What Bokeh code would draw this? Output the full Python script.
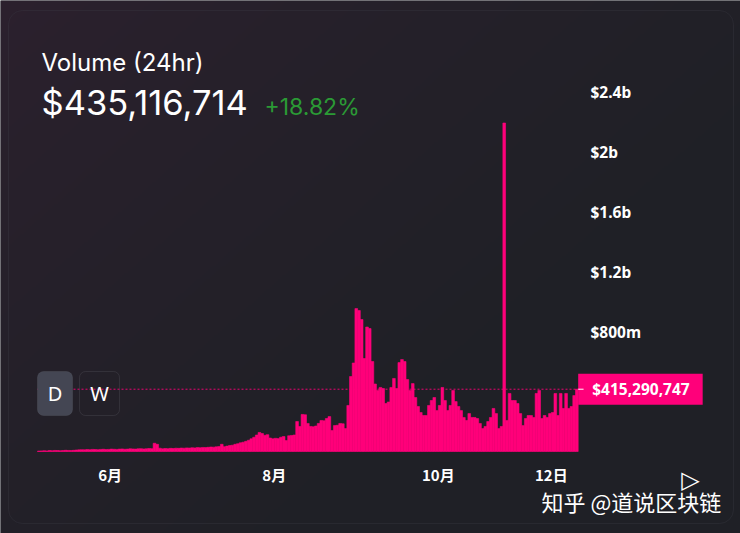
import numpy as np
import pandas as pd
from bokeh.plotting import figure
from bokeh.models import Range1d, FixedTicker, Label, BoxAnnotation, ColumnDataSource, LinearAxis, DatetimeAxis
from bokeh.embed import file_html
from bokeh.resources import INLINE

# ---------------- data ----------------
START_DATE = "2020-05-05"
volume_m = [
    3, 4, 5, 4, 6, 5, 7, 6, 5, 6, 8, 7, 6, 8,
    10, 11, 12, 11, 13, 12, 14, 13, 12, 14, 15, 13, 14, 16, 15, 14, 16, 17, 15, 16, 18, 17, 16, 18, 19, 17, 18, 20, 19,
    55, 48, 22,
    18, 20, 19, 21, 20, 22, 21, 23, 22, 24, 23, 25, 24, 26, 25, 27, 26, 28, 30, 29, 31, 33,
    48, 32,
    36, 40, 42, 48, 52, 58, 62, 68, 75,
    85, 95, 110, 127, 120, 108, 112,
    90, 85, 88, 86, 95,
    100, 73,
    105, 107, 110,
    200, 167, 247, 245, 187, 167, 165, 170, 187, 207, 205, 220, 233, 140, 173, 175, 187, 185,
    153, 307, 500, 590, 953, 940, 880, 620, 830, 820, 600, 450, 407, 427, 420, 320, 330, 427, 487, 420,
    593, 613, 600, 480, 407, 453, 360, 300, 260, 240, 240, 307, 340, 360, 273, 307, 427, 340, 273, 307,
    407, 333, 300, 273, 227, 207, 253, 227, 227, 220, 187, 153, 167, 200, 227, 287, 253, 153, 167, 2190,
    207, 387, 340, 340, 320, 253, 173, 220, 240, 240, 227, 387, 407, 220, 240, 227, 253, 260, 387, 240,
    387, 287, 387, 287, 300, 373, 415.290747,
]
x_tick_dates = ["2020-06-01", "2020-08-01", "2020-10-01", "2020-11-12"]
x_tick_labels = ["6月", "8月", "10月", "12日"]
y_tick_values = [800e6, 1.2e9, 1.6e9, 2.0e9, 2.4e9]
y_tick_labels = ["$800m", "$1.2b", "$1.6b", "$2b", "$2.4b"]
latest_value = 415290747
latest_label = "$415,290,747"
title_text = "Volume (24hr)"
headline_value = "$435,116,714"
change_text = "+18.82%"
watermark = "知乎 @道说区块链"

# ---------------- layout (pixels) ----------------
W, H = 740, 533
DATA_LEFT, DATA_RIGHT, BASE_Y = 37, 578, 451
PX_PER_DAY = 2.69
PX_PER_UNIT_Y = 60 / 400e6
DAY_MS = 86400000
PINK = "#FF007A"

dates = pd.date_range(START_DATE, periods=len(volume_m), freq="D")
centers = dates + pd.Timedelta(hours=12)
source = ColumnDataSource(dict(x=centers, top=[v * 1e6 for v in volume_m]))

t0_ms = dates[0].value / 1e6
x_start = t0_ms - DATA_LEFT / PX_PER_DAY * DAY_MS
x_end = x_start + W / PX_PER_DAY * DAY_MS
y_start = -(H - BASE_Y) / PX_PER_UNIT_Y
y_end = BASE_Y / PX_PER_UNIT_Y
x_axis_loc = x_start + DATA_RIGHT / PX_PER_DAY * DAY_MS
data_end_ms = (dates[-1] + pd.Timedelta(days=1)).value / 1e6

p = figure(width=W, height=H, x_axis_type=None, y_axis_type=None,
           x_range=Range1d(x_start, x_end), y_range=Range1d(y_start, y_end),
           output_backend="svg", toolbar_location=None,
           min_border=0, min_border_left=0, min_border_right=0, min_border_top=0, min_border_bottom=0,
           background_fill_color="#1f2027", border_fill_color="#1f2027", outline_line_color=None)

# subtle diagonal background gradient (purple tint at the top-left)
gh, gw = 267, 370
rows, cols = np.mgrid[0:gh, 0:gw]          # row 0 is drawn at the bottom
from_top = (gh - 1 - rows) / gh
d = np.clip(((cols / gw) * 0.55 + from_top * 0.45) / 0.7, 0, 1) ** 0.8
c0 = np.array([44, 33, 46])
c1 = np.array([31, 32, 38])
rgb = c0[None, None, :] * (1 - d[..., None]) + c1[None, None, :] * d[..., None]
img = np.empty((gh, gw), dtype=np.uint32)
view = img.view(dtype=np.uint8).reshape((gh, gw, 4))
view[..., 0] = rgb[..., 0]
view[..., 1] = rgb[..., 1]
view[..., 2] = rgb[..., 2]
view[..., 3] = 255
p.image_rgba(image=[img], x=x_start, y=y_start, dw=x_end - x_start, dh=y_end - y_start)

p.vbar(x="x", top="top", width=DAY_MS, source=source,
       fill_color=PINK, line_color=PINK, line_width=0.6)

# current value dashed line
p.line(x=[t0_ms, data_end_ms], y=[latest_value, latest_value], line_color=PINK,
       line_dash="2 2", line_width=1, line_alpha=0.9)

p.grid.grid_line_color = None

tick_ms = [pd.Timestamp(d_).value / 1e6 for d_ in x_tick_dates]
xaxis = DatetimeAxis(fixed_location=0, ticker=FixedTicker(ticks=tick_ms),
                     major_label_overrides={t: l for t, l in zip(tick_ms, x_tick_labels)})
yaxis = LinearAxis(fixed_location=x_axis_loc, ticker=FixedTicker(ticks=y_tick_values),
                   major_label_overrides={t: l for t, l in zip(y_tick_values, y_tick_labels)})
for ax in (xaxis, yaxis):
    ax.axis_line_color = None
    ax.major_tick_line_color = None
    ax.minor_tick_line_color = None
    ax.major_tick_out = 0
    ax.major_tick_in = 0
    ax.minor_tick_out = 0
    ax.major_label_text_color = "#ffffff"
    ax.major_label_text_font_style = "bold"
    ax.major_label_text_font_size = "15px"
    ax.major_label_standoff = 12
xaxis.major_label_text_font = "Noto Sans CJK SC"
yaxis.major_label_text_font = "Noto Sans"
yaxis.major_label_text_font_size = "15.5px"
p.add_layout(xaxis, "below")
p.add_layout(yaxis, "right")


def sx(X):
    return X


def sy(Y):
    return H - Y


def screen_box(l, r, t, b, **kw):
    p.add_layout(BoxAnnotation(left=sx(l), right=sx(r), top=sy(t), bottom=sy(b),
                               left_units="screen", right_units="screen",
                               top_units="screen", bottom_units="screen", **kw))


# card border
screen_box(8, 733, 10, 523, fill_alpha=0, line_color="#3f404a", line_width=1, border_radius=14)
# D / W buttons
screen_box(37, 72, 371, 415, fill_color="#444653", fill_alpha=1, line_color="#5d5f6b",
           line_width=1, border_radius=6)
screen_box(79, 119, 371, 415, fill_alpha=0, line_color="#595a63", line_width=1, border_radius=6)


def add_text(text, X, Y, size, color="#ffffff", font="Inter", style="normal", align="left"):
    p.add_layout(Label(x=sx(X), y=sy(Y), x_units="screen", y_units="screen", text=text,
                       text_font=font, text_font_size=size, text_color=color, text_font_style=style,
                       text_align=align, text_baseline="middle"))


add_text(title_text, 41, 62, "24px")
add_text(headline_value, 41, 102, "34.5px")
add_text(change_text, 264, 106, "23px", color="#2b9a35")
add_text("D", 54.5, 393, "20px", font="Noto Sans", align="center")
add_text("W", 99, 393, "20px", font="Noto Sans", align="center")
add_text("▷", 690, 479, "24px", font="DejaVu Sans", align="center")
add_text(watermark, 541, 500, "22px", font="Noto Sans CJK SC")

# latest value tag (padding order: left, right, top, bottom)
p.add_layout(Label(x=data_end_ms, y=latest_value, text=latest_label,
                   text_font="Noto Sans", text_font_size="15.5px", text_font_style="bold",
                   text_color="#ffffff", text_baseline="middle", text_align="left",
                   background_fill_color=PINK, padding=(14, 13, 4, 5)))
p.segment(x0=[data_end_ms], x1=[data_end_ms + 2 * DAY_MS], y0=[latest_value], y1=[latest_value],
          line_color="#ffffff", line_width=1, level="overlay")

open("out.html", "w").write(file_html(p, INLINE))
